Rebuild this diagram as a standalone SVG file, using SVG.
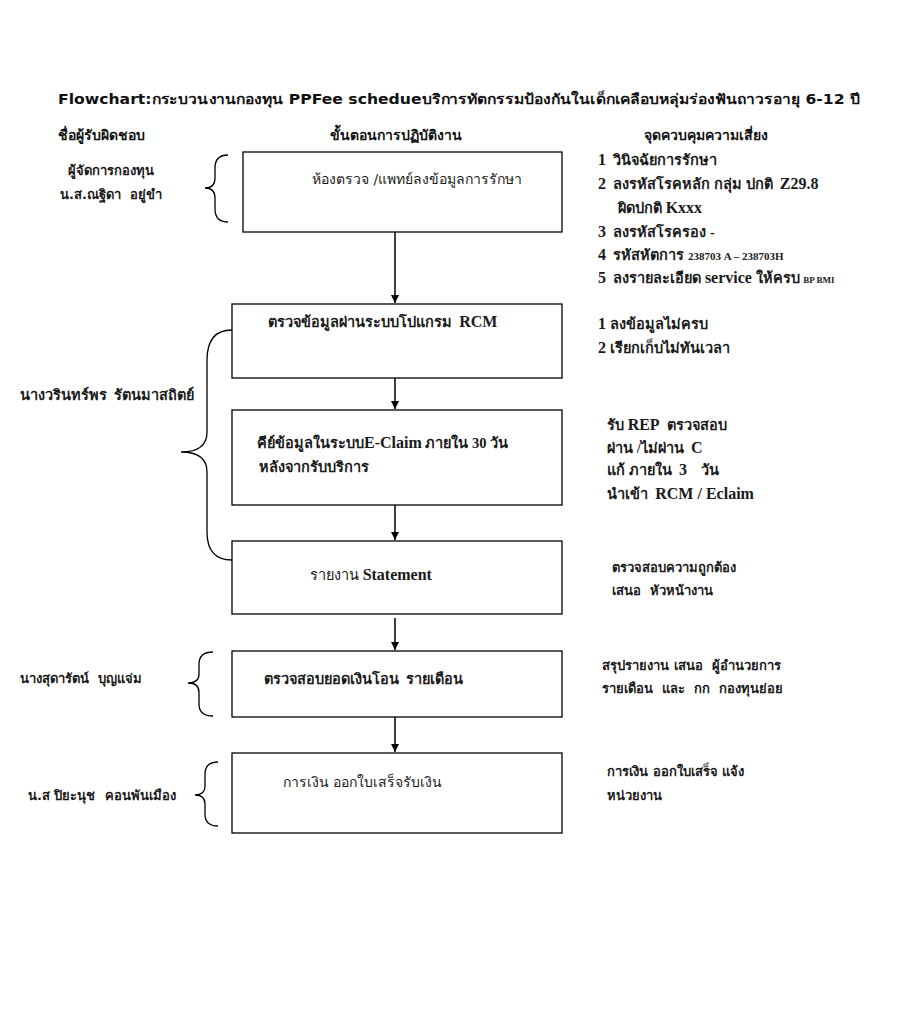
<svg xmlns="http://www.w3.org/2000/svg" width="910" height="1021" viewBox="0 0 910 1021" xml:space="preserve">
<defs>
<marker id="ah" viewBox="0 0 10 10" refX="10" refY="5" markerWidth="8" markerHeight="8" markerUnits="userSpaceOnUse" orient="auto">
<path d="M0,0 L10,5 L0,10 z" fill="#000"/>
</marker>
<style>
.box{fill:#fff;stroke:#000;stroke-width:1.3}
.br{fill:none;stroke:#000;stroke-width:1.3}
.ln{stroke:#000;stroke-width:1.5;fill:none}
.t{font-family:"Liberation Serif","Noto Sans",serif;font-size:14.5px;fill:#1a1a1a;font-weight:bold;white-space:pre}
.s{font-family:"DejaVu Sans","Noto Sans",sans-serif;font-size:13px;fill:#1a1a1a;font-weight:bold;white-space:pre}
.h{font-family:"DejaVu Sans","Noto Sans",sans-serif;font-size:14px;fill:#111;font-weight:bold;white-space:pre}
.L{font-size:16px}
</style>
</defs>
<rect width="910" height="1021" fill="#fff"/>
<text class="h" x="58" y="104" style="font-size:14px" textLength="802" lengthAdjust="spacingAndGlyphs">Flowchart:กระบวนงานกองทุน PPFee schedueบริการทัตกรรมป้องกันในเด็กเคลือบหลุ่มร่องฟันถาวรอายุ 6-12 ปี</text>
<text class="h" x="58" y="140">ชื่อผู้รับผิดชอบ</text>
<text class="h" x="396" y="140" text-anchor="middle">ขั้นตอนการปฏิบัติงาน</text>
<text class="h" x="706" y="140" text-anchor="middle">จุดควบคุมความเสี่ยง</text>

<g id="connectors">
<line class="ln" x1="395" y1="232" x2="395" y2="303" marker-end="url(#ah)"/>
<line class="ln" x1="395" y1="378" x2="395" y2="409" marker-end="url(#ah)"/>
<line class="ln" x1="395" y1="505" x2="395" y2="540" marker-end="url(#ah)"/>
<line class="ln" x1="395" y1="618" x2="395" y2="650" marker-end="url(#ah)"/>
<line class="ln" x1="395" y1="717" x2="395" y2="752" marker-end="url(#ah)"/>
</g>

<g id="n1">
<rect class="box" x="243" y="152" width="319" height="80"/>
<text class="s" x="312" y="184" style="font-weight:normal;font-size:14px">ห้องตรวจ /แพทย์ลงข้อมูลการรักษา</text>
</g>
<g id="n2">
<rect class="box" x="232" y="304" width="330" height="74"/>
<text class="t" x="268" y="327">ตรวจข้อมูลผ่านระบบโปแกรม  <tspan class="L">RCM</tspan></text>
</g>
<g id="n3">
<rect class="box" x="232" y="410" width="330" height="95"/>
<text class="t" x="257" y="448">คีย์ข้อมูลในระบบ<tspan class="L">E-Claim</tspan> ภายใน 30 วัน</text>
<text class="t" x="259" y="472">หลังจากรับบริการ</text>
</g>
<g id="n4">
<rect class="box" x="232" y="541" width="330" height="73"/>
<text class="t" x="310" y="580" style="font-weight:normal">รายงาน <tspan class="L" style="font-weight:bold">Statement</tspan></text>
</g>
<g id="n5">
<rect class="box" x="232" y="651" width="330" height="66"/>
<text class="t" x="264" y="684">ตรวจสอบยอดเงินโอน  รายเดือน</text>
</g>
<g id="n6">
<rect class="box" x="232" y="753" width="330" height="80"/>
<text class="s" x="283" y="787" style="font-weight:normal;font-size:14px">การเงิน ออกใบเสร็จรับเงิน</text>
</g>

<g id="responsible">
<path class="br" d="M228,155 Q215,155 215,168 L215,178 Q215,188 205,188 Q215,188 215,198 L215,209 Q215,222 228,222"/>
<text class="s" x="111" y="175" text-anchor="middle">ผู้จัดการกองทุน</text>
<text class="s" x="111" y="199" text-anchor="middle">น.ส.ณฐิดา  อยู่ขำ</text>
<path class="br" d="M232,330 Q207,330 207,360 L207,432 Q207,452 181,452 Q207,452 207,472 L207,532 Q207,560 232,560"/>
<text class="t" x="20" y="400">นางวรินทร์พร  รัตนมาสถิตย์</text>
<path class="br" d="M213,652 Q199,652 199,664 L199,674 Q199,683 188,683 Q199,683 199,692 L199,704 Q199,716 213,716"/>
<text class="s" x="20" y="683">นางสุดารัตน์  บุญแจ่ม</text>
<path class="br" d="M218,762 Q205,762 205,774 L205,786 Q205,795 195,795 Q205,795 205,804 L205,814 Q205,826 218,826"/>
<text class="s" x="28" y="800">น.ส ปิยะนุช  คอนพันเมือง</text>
</g>

<g id="risks">
<text class="t" x="598" y="165"><tspan class="L">1</tspan>  วินิจฉัยการรักษา</text>
<text class="t" x="598" y="189"><tspan class="L">2</tspan>  ลงรหัสโรคหลัก กลุ่ม ปกติ  <tspan class="L">Z29.8</tspan></text>
<text class="t" x="618" y="213">ผิดปกติ <tspan class="L">Kxxx</tspan></text>
<text class="t" x="598" y="237"><tspan class="L">3</tspan>  ลงรหัสโรครอง -</text>
<text class="t" x="598" y="260"><tspan class="L">4</tspan>  รหัสหัตการ <tspan style="font-size:11px">238703 A – 238703H</tspan></text>
<text class="t" x="598" y="283"><tspan class="L">5</tspan>  ลงรายละเอียด <tspan class="L">service</tspan> ให้ครบ <tspan style="font-size:9px">BP BMI</tspan></text>
<text class="t" x="598" y="329"><tspan class="L">1</tspan> ลงข้อมูลไม่ครบ</text>
<text class="t" x="598" y="353"><tspan class="L">2</tspan> เรียกเก็บไม่ทันเวลา</text>
<text class="t" x="607" y="430">รับ <tspan class="L">REP</tspan>  ตรวจสอบ</text>
<text class="t" x="607" y="453">ผ่าน /ไม่ผ่าน  <tspan class="L">C</tspan></text>
<text class="t" x="607" y="475">แก้ ภายใน  <tspan class="L">3</tspan>    วัน</text>
<text class="t" x="607" y="499">นำเข้า  <tspan class="L">RCM / Eclaim</tspan></text>
<text class="s" x="612" y="572">ตรวจสอบความถูกต้อง</text>
<text class="s" x="612" y="595">เสนอ  หัวหน้างาน</text>
<text class="s" x="602" y="670">สรุปรายงาน เสนอ  ผู้อำนวยการ</text>
<text class="s" x="602" y="693">รายเดือน  และ  กก  กองทุนย่อย</text>
<text class="s" x="607" y="776">การเงิน ออกใบเสร็จ แจ้ง</text>
<text class="s" x="607" y="800">หน่วยงาน</text>
</g>
</svg>
